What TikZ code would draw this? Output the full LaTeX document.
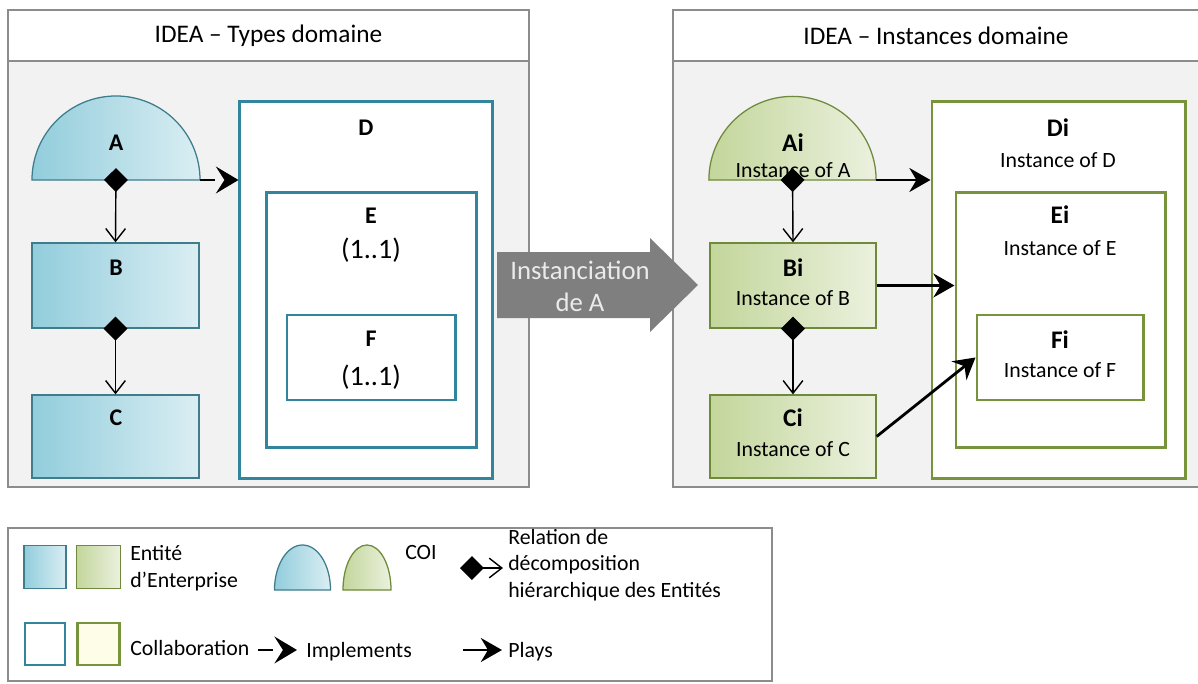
\documentclass[tikz,border=0pt]{standalone}
\usepackage{fontspec}
\setmainfont{Carlito}
\usetikzlibrary{arrows.meta,positioning}
\definecolor{panelgray}{HTML}{F2F2F2}
\definecolor{panelline}{HTML}{8C8C8C}
\definecolor{bluedark}{HTML}{92CDDC}
\definecolor{bluelight}{HTML}{DAEEF3}
\definecolor{blueline}{HTML}{31859C}
\definecolor{blueedge}{HTML}{3F7D8C}
\definecolor{greendark}{HTML}{C3D69B}
\definecolor{greenlight}{HTML}{EBF1DE}
\definecolor{greenline}{HTML}{77933C}
\definecolor{greenedge}{HTML}{6E8A3A}
\definecolor{cream}{HTML}{FDFDE8}
\definecolor{arrowgray}{HTML}{7F7F7F}

\tikzstyle{panel} = [draw=panelline, line width=1.4pt, fill=panelgray, rectangle, inner sep=0pt]
\tikzstyle{header} = [draw=panelline, line width=1.4pt, fill=white, rectangle, inner sep=0pt,
font=\fontsize{18}{21}\selectfont]
\tikzstyle{fillblue} = [draw=blueedge, line width=0.9pt, left color=bluedark, right color=bluelight]
\tikzstyle{fillgreen} = [draw=greenedge, line width=0.9pt, left color=greendark, right color=greenlight]
\tikzstyle{entblue} = [fillblue, rectangle, inner sep=0pt]
\tikzstyle{entgreen} = [fillgreen, rectangle, inner sep=0pt]
\tikzstyle{collabblue} = [draw=blueline, line width=2.1pt, fill=white, rectangle, inner sep=0pt]
\tikzstyle{collabgreen} = [draw=greenline, line width=2.1pt, fill=white, rectangle, inner sep=0pt]
\tikzstyle{lbl} = [inner sep=0pt, font=\fontsize{17}{20}\selectfont\bfseries]
\tikzstyle{lbli} = [inner sep=0pt, font=\fontsize{18}{21}\selectfont\bfseries]
\tikzstyle{sub} = [inner sep=0pt, font=\fontsize{15.5}{18}\selectfont]
\tikzstyle{mult} = [inner sep=0pt, font=\fontsize{20}{24}\selectfont]
\tikzstyle{legtext} = [inner sep=0pt, anchor=west, align=left, font=\fontsize{15.5}{19}\selectfont]
\tikzstyle{hier} = [line width=1pt, {Diamond[length=17pt,width=17pt]}-{Straight Barb[length=9pt,width=14pt]}]
\tikzstyle{implements} = [line width=2pt, dash pattern=on 11pt off 30pt,
-{Stealth[length=16pt,width=19pt,inset=6pt]}]
\tikzstyle{plays} = [line width=2pt, -{Stealth[length=15pt,width=17pt,inset=5pt]}]

\begin{document}
\begin{tikzpicture}[x=0.025cm, y=-0.025cm]
		\useasboundingbox (0,0) rectangle (1198,684);
		% panels
		\node [panel, minimum width=13.025cm, minimum height=10.65cm] (left) at (268.5,274) {};
		\node [header, minimum width=13.025cm, minimum height=1.275cm] (lefthead) at (268.5,35.5) {IDEA -- Types domaine};
		\node [panel, minimum width=13.3cm, minimum height=10.65cm] (right) at (939,274) {};
		\node [header, minimum width=13.3cm, minimum height=1.275cm] (righthead) at (939,35.5) {};
		\node [inner sep=0pt, font=\fontsize{18}{21}\selectfont] (righttitle) at (936,35.5) {IDEA -- Instances domaine};

		% types
		\coordinate (Abase) at (116,180);
		\draw [fillblue] ([xshift=-2.1cm]Abase) arc [start angle=180, end angle=0, radius=2.1cm] -- cycle;
		\node [lbl] (A) at (116,143) {A};
		\node [entblue, minimum width=4.175cm, minimum height=2.125cm] (B) at (115.5,285.5) {};
		\node [lbl] (Blbl) at (116,268) {B};
		\node [entblue, minimum width=4.175cm, minimum height=2.075cm] (C) at (115.5,436.5) {};
		\node [lbl] (Clbl) at (116,418) {C};
		\node [collabblue, minimum width=6.3cm, minimum height=9.4cm] (D) at (366,290) {};
		\node [lbl] (Dlbl) at (366,128) {D};
		\node [collabblue, minimum width=5.225cm, minimum height=6.35cm] (E) at (371.5,320) {};
		\node [lbl] (Elbl) at (371,216) {E};
		\node [mult] (Emult) at (371,250) {(1..1)};
		\node [collabblue, minimum width=4.2cm, minimum height=2.125cm] (F) at (371,357.5) {};
		\node [lbl] (Flbl) at (371,339) {F};
		\node [mult] (Fmult) at (371,377) {(1..1)};

		\draw [hier] ([yshift=8.5pt]Abase) -- (B.north);
		\draw [hier] ([yshift=8.5pt]B.south) -- (C.north);
		\draw [implements] ([xshift=2.1cm]Abase) -- (D.west |- Abase);

		% instanciation
		\fill [arrowgray] (497,252) -- (650,252) -- (650,238) -- (698,285) -- (650,332) -- (650,318) -- (497,318) -- cycle;
		\node [inner sep=0pt, align=center, text=white!92!black, font=\fontsize{19}{22.7}\selectfont] (inst) at (580,286) {Instanciation\\de A};

		% instances
		\coordinate (Aibase) at (792.5,180);
		\draw [fillgreen] ([xshift=-2.09cm]Aibase) arc [start angle=180, end angle=0, radius=2.09cm] -- cycle;
		\node [lbli] (Ai) at (793,143) {Ai};
		\node [sub] (Aisub) at (793,170) {Instance of A};
		\node [entgreen, minimum width=4.15cm, minimum height=2.125cm] (Bi) at (793,285.5) {};
		\node [lbli] (Bilbl) at (793,268) {Bi};
		\node [sub] (Bisub) at (793,298) {Instance of B};
		\node [entgreen, minimum width=4.15cm, minimum height=2.075cm] (Ci) at (793,436.5) {};
		\node [lbli] (Cilbl) at (793,418) {Ci};
		\node [sub] (Cisub) at (793,449) {Instance of C};
		\node [collabgreen, minimum width=6.325cm, minimum height=9.4cm] (Di) at (1058.5,290) {};
		\node [lbli] (Dilbl) at (1058,128) {Di};
		\node [sub] (Disub) at (1058,160) {Instance of D};
		\node [collabgreen, minimum width=5.225cm, minimum height=6.35cm] (Ei) at (1060.5,320) {};
		\node [lbli] (Eilbl) at (1060,215) {Ei};
		\node [sub] (Eisub) at (1060,248) {Instance of E};
		\node [collabgreen, minimum width=4.15cm, minimum height=2.125cm] (Fi) at (1060,357.5) {};
		\node [lbli] (Filbl) at (1060,340) {Fi};
		\node [sub] (Fisub) at (1060,370) {Instance of F};

		\draw [hier] ([yshift=8.5pt]Aibase) -- (Bi.north);
		\draw [hier] ([yshift=8.5pt]Bi.south) -- (Ci.north);
		\draw [plays] ([xshift=2.09cm]Aibase) -- (Di.west |- Aibase);
		\draw [plays] (Bi.east) -- (Bi.east -| Ei.west);
		\draw [plays] (Ci.east) -- (Fi.west);

		% legend
		\node [draw=panelline, line width=1.4pt, fill=white, minimum width=19.1cm, minimum height=3.825cm] (legend) at (390,604.5) {};
		\node [entblue, minimum width=1.05cm, minimum height=1.075cm] (lgEb) at (45,567) {};
		\node [entgreen, minimum width=1.1cm, minimum height=1.075cm] (lgEg) at (98.5,567) {};
		\node [legtext] (lgEnt) at (130,568) {Entité\\d’Enterprise};
		\coordinate (lgCb) at (302.5,590);
		\draw [fillblue] ([xshift=-0.7cm]lgCb) arc [start angle=180, end angle=0, x radius=0.7cm, y radius=1.125cm] -- cycle;
		\coordinate (lgCg) at (367,590);
		\draw [fillgreen] ([xshift=-0.6cm]lgCg) arc [start angle=180, end angle=0, x radius=0.6cm, y radius=1.125cm] -- cycle;
		\node [legtext] (lgCOI) at (405,552) {COI};
		\coordinate (lgH1) at (460,568);
		\coordinate (lgH2) at (503,568);
		\draw [hier] (lgH1) -- (lgH2);
		\node [legtext] (lgHier) at (508,565) {Relation de\\décomposition\\hiérarchique des Entités};

		\node [collabblue, minimum width=1.0cm, minimum height=1.05cm] (lgCollb) at (45,644) {};
		\node [collabgreen, fill=cream, minimum width=1.05cm, minimum height=1.05cm] (lgCollg) at (98.5,644) {};
		\node [legtext] (lgColl) at (130,648) {Collaboration};
		\coordinate (lgI1) at (258,650);
		\coordinate (lgI2) at (297,650);
		\draw [implements] (lgI1) -- (lgI2);
		\node [legtext] (lgImpl) at (306,652) {Implements};
		\coordinate (lgP1) at (463,650);
		\coordinate (lgP2) at (502,650);
		\draw [plays] (lgP1) -- (lgP2);
		\node [legtext] (lgPlays) at (508,652) {Plays};
\end{tikzpicture}
\end{document}
